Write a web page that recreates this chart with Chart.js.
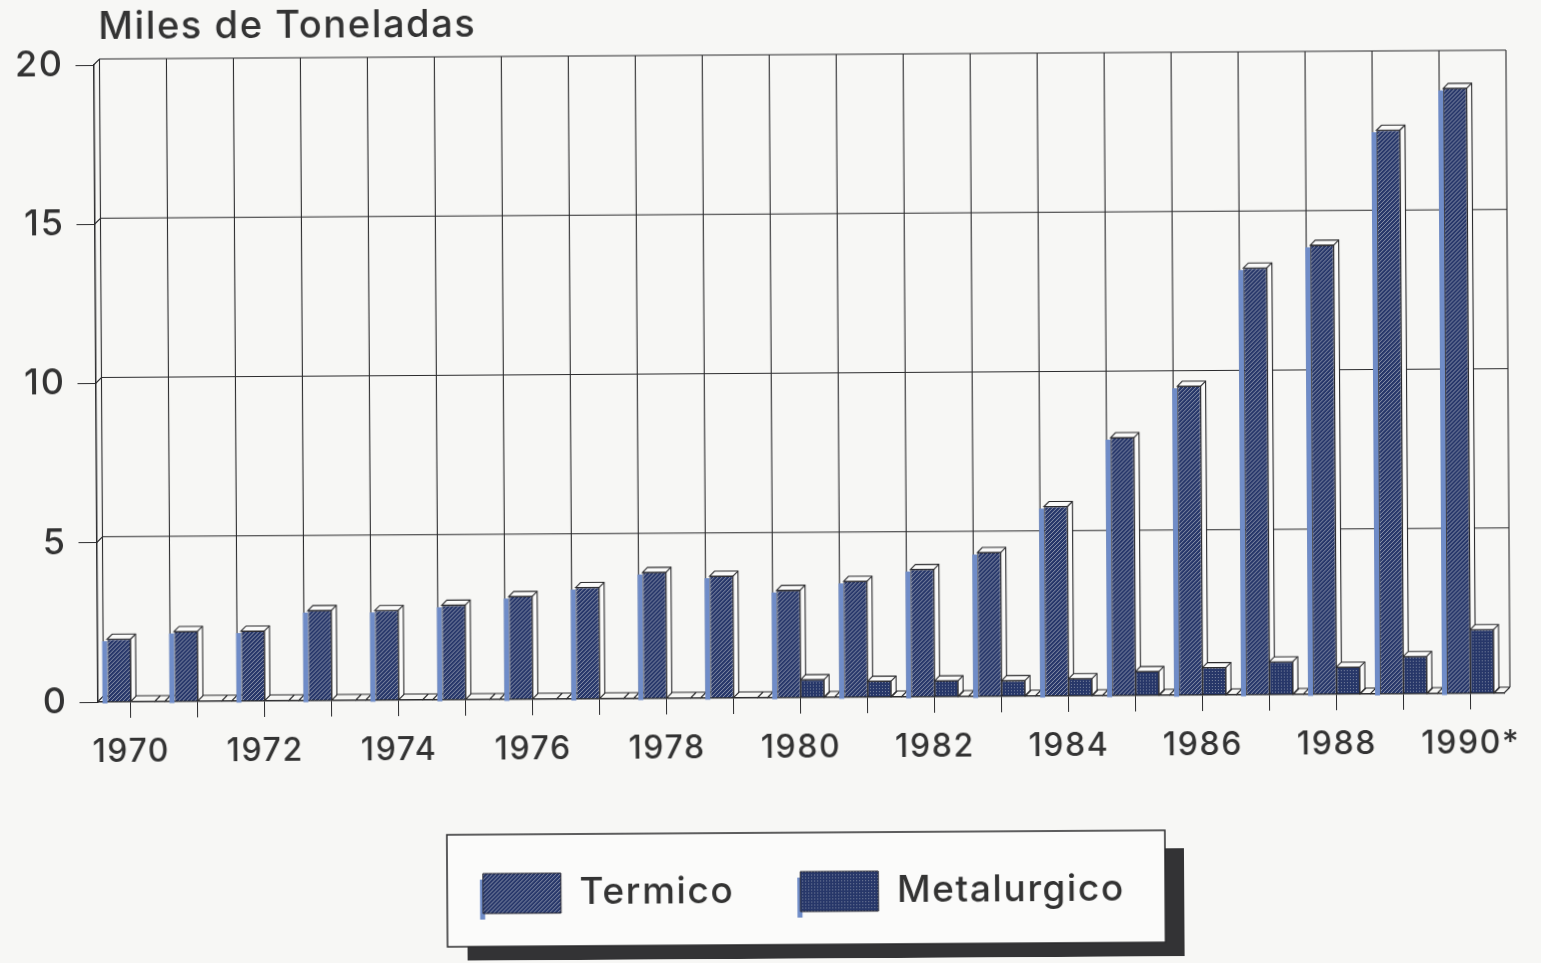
<!DOCTYPE html>
<html><head><meta charset="utf-8">
<script src="https://cdn.jsdelivr.net/npm/chart.js@4"></script>
<style>
html,body{margin:0;padding:0;background:#f7f7f5;overflow:hidden;width:1541px;height:963px}
#c{position:absolute;left:0;top:0;transform-origin:100px 702px;transform:rotate(-0.36deg)}
</style></head><body>
<canvas id="c" width="1541" height="963"></canvas>
<script>
const years=["1970","1971","1972","1973","1974","1975","1976","1977","1978","1979","1980","1981","1982","1983","1984","1985","1986","1987","1988","1989","1990*"];
const termico=[1.97,2.2,2.2,2.83,2.82,2.97,3.23,3.5,3.96,3.83,3.37,3.64,4.0,4.52,5.95,8.1,9.7,13.4,14.1,17.7,19.0];
const metalurgico=[null,null,null,null,null,null,null,null,null,null,0.56,0.5,0.5,0.49,0.54,0.75,0.86,1.03,0.85,1.17,2.0];
const INK='#2b2b2d',DEPTH=6,FONT='Inter',SP='1.6px';
function tile(w,h,draw){const t=document.createElement('canvas');t.width=w;t.height=h;draw(t.getContext('2d'));return t;}
const ctx0=document.getElementById('c').getContext('2d');
const hatch=ctx0.createPattern(tile(4,4,g=>{g.fillStyle='#27376a';g.fillRect(0,0,4,4);g.strokeStyle='#979fb2';g.lineWidth=.9;
  g.beginPath();g.moveTo(-1,1);g.lineTo(1,-1);g.moveTo(0,4);g.lineTo(4,0);g.moveTo(3,5);g.lineTo(5,3);g.stroke();}),'repeat');
const dots=ctx0.createPattern(tile(3,3,g=>{g.fillStyle='#273769';g.fillRect(0,0,3,3);g.fillStyle='#7d87a0';g.fillRect(0,0,1,1);}),'repeat');
const wall3d={id:'wall3d',
 beforeLayout(ch){ch.ctx.letterSpacing=SP;},
 beforeDraw(ch){const c=ch.ctx;c.letterSpacing=SP;c.save();
  c.fillStyle='#333335';c.fillRect(466,855,717,125);
  c.fillStyle='#fbfbfa';c.fillRect(446,837,718,112);
  c.strokeStyle=INK;c.lineWidth=1.5;c.strokeRect(446,837,718,112);
  const b=ch.legend.legendHitBoxes;
  c.fillStyle='#6f8cc8';b.forEach(h=>c.fillRect(h.left-3,h.top+6,5,h.height));
  c.restore();},
 beforeDatasetsDraw(ch){const c=ch.ctx,y=ch.scales.y,a=ch.chartArea;c.save();
  c.strokeStyle=INK;c.lineWidth=1.1;c.lineCap='butt';
  const L=a.left,R=a.right,B=a.bottom,T=a.top,d=DEPTH;
  c.beginPath();
  y.ticks.forEach(t=>{const p=y.getPixelForValue(t.value);c.moveTo(L,p);c.lineTo(L+d,p-d);c.lineTo(R+d,p-d);});
  for(let i=0;i<=years.length;i++){const p=L+(R-L)*i/years.length;
    c.moveTo(p+d,T-d);c.lineTo(p+d,B-d);
    if(i<years.length){c.moveTo(p+d,B-d);c.lineTo(p,B);}
    if(i>0){c.moveTo(p+d-10,B-d);c.lineTo(p-10,B);}
  }
  c.moveTo(R,B);c.lineTo(R+d,B-d);
  c.stroke();
  const draw3d=(el,showBlue)=>{const l=el.x-el.width/2,r=el.x+el.width/2,t=el.y,b=el.base;
    if(showBlue){c.fillStyle='#6f8cc8';c.fillRect(l-5,t+2,5,b-t);}
    c.fillStyle='#fbfbfa';c.beginPath();c.moveTo(l,t);c.lineTo(l+d-1,t-d+1);c.lineTo(r+d-1,t-d+1);c.lineTo(r+d-1,b-d+1);c.lineTo(r,b);c.lineTo(r,t);c.closePath();c.fill();c.stroke();
    c.beginPath();c.moveTo(r,t);c.lineTo(r+d-1,t-d+1);c.stroke();};
  ch.getDatasetMeta(0).data.forEach(el=>draw3d(el,true));
  ch.getDatasetMeta(1).data.forEach((el,i)=>{if(metalurgico[i]!=null)draw3d(el,false);});
  c.restore();},
 afterLayout(ch){const l=ch.legend;l.top=810;l.left+=2;l.right+=2;const t=ch.titleBlock;t.left+=5;t.right+=5;}
};
new Chart(ctx0,{type:'bar',
 data:{labels:years,datasets:[
  {label:'Termico',data:termico,backgroundColor:hatch,borderColor:'#2b2b33',borderWidth:1,categoryPercentage:.7,barPercentage:1},
  {label:'Metalurgico',data:metalurgico,backgroundColor:dots,borderColor:'#2b2b33',borderWidth:1,categoryPercentage:.7,barPercentage:1}]},
 plugins:[wall3d],
 options:{responsive:false,animation:false,events:[],
  layout:{padding:{left:0,right:37,top:0,bottom:0}},
  plugins:{tooltip:{enabled:false},
   title:{display:true,text:'Miles de Toneladas',align:'start',fullSize:false,color:'#333',
     font:{family:FONT,size:38,weight:'500'},padding:{top:5,bottom:14.4}},
   legend:{position:'bottom',fullSize:false,
     labels:{boxWidth:78,boxHeight:40,padding:66,color:'#333',font:{family:FONT,size:37,weight:'500'}}}},
  scales:{
   x:{offset:true,border:{display:true,color:INK,width:1.5},
     grid:{offset:false,drawOnChartArea:false,drawTicks:true,tickLength:16,tickColor:INK},
     ticks:{autoSkip:false,maxRotation:0,minRotation:0,padding:15,color:'#333',font:{family:FONT,size:32,weight:'500'},
       callback(v,i){return i%2===0?years[i]:'';}},
     afterFit(s){s.height=145;}},
   y:{min:0,max:20,border:{display:true,color:INK,width:1.5},
     grid:{drawOnChartArea:false,drawTicks:true,tickLength:18,tickColor:INK},
     ticks:{stepSize:5,padding:12,color:'#333',font:{family:FONT,size:36,weight:'500'}},
     afterFit(s){s.width=97.5;}}
  }}
});
</script></body></html>
